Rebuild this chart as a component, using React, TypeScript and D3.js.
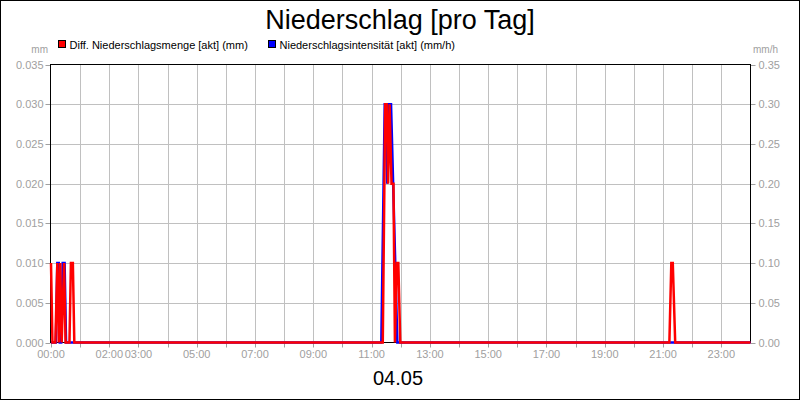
import React from "react";
import * as d3 from "d3";

const title = "Niederschlag [pro Tag]";
const dateLabel = "04.05";
const seriesNames = ["Diff. Niederschlagsmenge [akt] (mm)", "Niederschlagsintensität [akt] (mm/h)"];
const seriesColors = ["#ff0000", "#0000ff"];

// minutes since 00:00 and values
const redTimes = [0, 3, 9, 13, 16, 19, 22, 27, 30, 38, 41, 45, 48, 683, 688, 691, 694, 697, 701, 705, 708, 712, 715, 719, 1273, 1277, 1280, 1285, 1440];
const redValues = [0.01, 0, 0, 0.01, 0, 0.01, 0, 0.01, 0, 0, 0.01, 0.01, 0, 0, 0.03, 0.03, 0.02, 0.03, 0.02, 0.02, 0, 0.01, 0.01, 0, 0, 0.01, 0.01, 0, 0];
const blueTimes = [0, 10, 13, 16, 18, 21, 24, 28, 31, 680, 687, 690, 692, 695, 700, 713, 1440];
const blueValues = [0, 0, 0.1, 0.1, 0, 0, 0.1, 0.1, 0, 0, 0.3, 0.3, 0.2, 0.3, 0.3, 0, 0];

const leftTicks = [0, 0.005, 0.01, 0.015, 0.02, 0.025, 0.03, 0.035];
const rightTicks = [0, 0.05, 0.1, 0.15, 0.2, 0.25, 0.3, 0.35];
const hourTicks = d3.range(0, 24);
const xLabelHours = [0, 2, 3, 5, 7, 9, 11, 13, 15, 17, 19, 21, 23];

const W = 800, H = 400;
const L = 50.5, R = 750.5, T = 64.5, B = 342.5;
const FONT = "'Liberation Sans', Arial, sans-serif";
const GRAY = "#a0a0a0";

export default function App() {
  const x = d3.scaleLinear().domain([0, 1440]).range([L + 0.5, R]);
  const yL = d3.scaleLinear().domain([0, 0.035]).range([B, T]);
  const yR = d3.scaleLinear().domain([0, 0.35]).range([B, T]);

  const red = redTimes.map((t, i) => [t, redValues[i]] as [number, number]);
  const blue = blueTimes.map((t, i) => [t, blueValues[i]] as [number, number]);
  const lineL = d3.line<[number, number]>().x((d) => x(d[0])).y((d) => yL(d[1]));
  const lineR = d3.line<[number, number]>().x((d) => x(d[0])).y((d) => yR(d[1]));

  return (
    <div style={{ position: "fixed", left: 0, top: 0 }}>
      <svg width={W} height={H} style={{ display: "block", fontFamily: FONT }}>
        <rect x={0} y={0} width={W} height={H} fill="#fff" />
        <rect x={0.5} y={0.5} width={W - 1} height={H - 1} fill="none" stroke="#000" />
        <text x={400} y={29} textAnchor="middle" fontSize={27} fill="#000">{title}</text>

        {/* legend */}
        {seriesNames.map((n, i) => (
          <g key={n} transform={`translate(${i === 0 ? 58.5 : 268.5},${40.5})`}>
            <rect x={0} y={0} width={7} height={7} fill={seriesColors[i]} stroke="#000" />
            <text x={11} y={8} fontSize={11} fill="#000">{n}</text>
          </g>
        ))}

        <text x={48} y={53} textAnchor="end" fontSize={10} fill={GRAY}>mm</text>
        <text x={753} y={53} fontSize={10} fill={GRAY}>mm/h</text>

        {/* grid */}
        {hourTicks.slice(1).map((h) => (
          <line key={"gx" + h} x1={Math.round(x(h * 60)) + 0.5} x2={Math.round(x(h * 60)) + 0.5} y1={T} y2={B} stroke="#c0c0c0" />
        ))}
        {leftTicks.slice(1, -1).map((v) => (
          <line key={"gy" + v} x1={L} x2={R} y1={Math.round(yL(v)) + 0.5} y2={Math.round(yL(v)) + 0.5} stroke="#c0c0c0" />
        ))}

        {/* left axis */}
        {leftTicks.map((v) => (
          <g key={"lt" + v}>
            <line x1={L - 5} x2={L} y1={Math.round(yL(v)) + 0.5} y2={Math.round(yL(v)) + 0.5} stroke={GRAY} />
            <text x={L - 7} y={yL(v) + 4} textAnchor="end" fontSize={11} fill={GRAY}>{v.toFixed(3)}</text>
          </g>
        ))}
        {rightTicks.map((v) => (
          <g key={"rt" + v}>
            <line x1={R} x2={R + 5} y1={Math.round(yR(v)) + 0.5} y2={Math.round(yR(v)) + 0.5} stroke={GRAY} />
            <text x={R + 8} y={yR(v) + 4} fontSize={11} fill={GRAY}>{v.toFixed(2)}</text>
          </g>
        ))}
        {hourTicks.map((h) => (
          <line key={"xt" + h} x1={Math.round(x(h * 60)) + 0.5} x2={Math.round(x(h * 60)) + 0.5} y1={B} y2={B + 5} stroke={GRAY} />
        ))}
        {xLabelHours.map((h) => (
          <text key={"xl" + h} x={x(h * 60)} y={358} textAnchor="middle" fontSize={11} fill={GRAY}>
            {String(h).padStart(2, "0") + ":00"}
          </text>
        ))}

        <rect x={L} y={T} width={R - L} height={B - T} fill="none" stroke="#000" />

        <path d={lineR(blue) || ""} fill="none" stroke={seriesColors[1]} strokeWidth={2.5} />
        <path d={lineL(red) || ""} fill="none" stroke={seriesColors[0]} strokeWidth={2.5} />

        <text x={398} y={385} textAnchor="middle" fontSize={20} fill="#000">{dateLabel}</text>
      </svg>
    </div>
  );
}
